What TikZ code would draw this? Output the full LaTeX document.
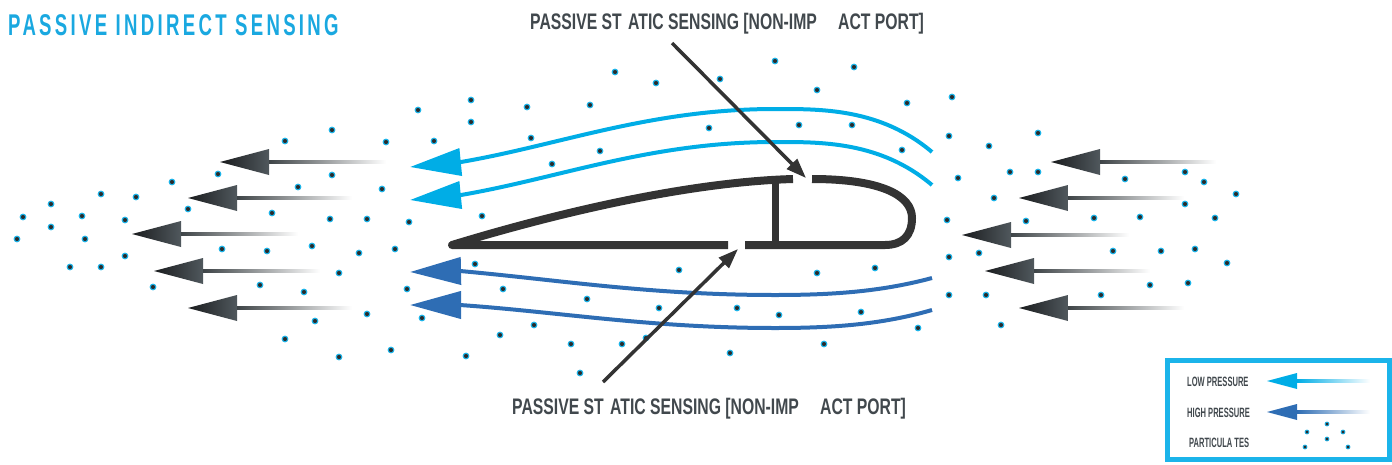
\documentclass[tikz,border=0pt]{standalone}
\usepackage{fontspec}
\usetikzlibrary{arrows.meta}
\newfontfamily\condfont[FakeStretch=0.7]{Liberation Sans}
\newfontfamily\keyfont[FakeStretch=0.56]{Liberation Sans}
\newfontfamily\titlefont[FakeStretch=0.62,LetterSpace=11]{Liberation Sans}

\definecolor{skyline}{HTML}{00ADE6}
\definecolor{deepline}{HTML}{2E6DB4}
\definecolor{titlecyan}{HTML}{1AA8E0}
\definecolor{labelgrey}{HTML}{41484D}
\definecolor{wingdark}{HTML}{333333}
\definecolor{dotfill}{HTML}{2B2B2B}
\definecolor{dotring}{HTML}{1BB4EA}
\definecolor{headdark}{HTML}{1A1C1E}
\definecolor{headgrey}{HTML}{50585D}
\definecolor{shaftgrey}{HTML}{3E4447}

\tikzset{
  particle/.style={fill=dotfill,draw=dotring,line width=1.1pt},
  wing/.style={draw=wingdark,line width=8pt,line join=round},
  stream/.style={line width=4pt,-{Triangle[length=51pt,width=27pt]}},
  pointer/.style={draw=wingdark,line width=3.5pt,-{Triangle[length=20pt,width=14pt]}},
  portlabel/.style={anchor=base west,inner sep=0pt,text=labelgrey,
    font=\condfont\bfseries\fontsize{22.5}{22}\selectfont},
  keylabel/.style={anchor=base west,inner sep=0pt,text=labelgrey,
    font=\keyfont\bfseries\fontsize{13.5}{14}\selectfont}
}

% grey wind arrow: tip x, y, tail x
\newcommand\windarrow[3]{%
  \shade[left color=headdark,right color=headgrey] (#1,#2) -- ++(49,-13) -- ++(0,26) -- cycle;
  \shade[left color=shaftgrey,right color=white] (#1+49,#2-1.8) rectangle (#3,#2+1.8);
}
% port caption, split as it is printed
\newcommand\porttext{\makebox[98pt][l]{PASSIVE ST}\makebox[210pt][l]{ATIC SENSING [NON-IMP}ACT PORT]}

\begin{document}
\begin{tikzpicture}[x=1pt,y=-1pt]
  \useasboundingbox (0,0) rectangle (1392,464);

  % particles
  \foreach \px/\py in {17/239,23/217,51/204,51/227,82/216,85/239,70/267,101/267,101/194,
      136/197,125/220,125/256,153/287,172/182,188/209,218/174,222/249,267/251,272/213,
      260/285,298/187,304/292,312/246,330/219,332/175,285/141,332/130,386/142,382/189,
      367/219,359/253,339/273,395/249,409/222,407/289,315/321,367/314,422/318,285/339,
      339/357,391/350,466/356,500/335,
      418/110,471/100,471/122,434/141,527/107,531/138,590/105,615/72,656/83,720/79,
      775/61,854/67,817/90,907/103,952/97,709/128,799/125,852/125,949/136,902/150,
      600/151,552/164,958/178,482/216,
      475/264,679/270,817/273,875/268,949/257,503/289,587/299,659/308,737/308,779/315,
      861/312,949/295,534/325,571/344,622/344,646/338,730/353,824/344,918/328,580/373,
      1038/133,989/146,1010/172,1038/172,994/198,1125/179,1185/172,1204/182,1236/194,
      1185/204,947/220,1026/221,1094/218,1140/217,1215/218,979/253,1113/251,1161/251,
      1195/249,1227/263,1150/285,1188/283,986/295,1101/295,1001/325}
    \draw[particle] (\px,\py) circle (2.8);

  % wind coming in, left and right of the profile
  \windarrow{220}{162}{386}
  \windarrow{188}{198}{352}
  \windarrow{132}{234}{298}
  \windarrow{154}{271}{320}
  \windarrow{188}{308}{352}
  \windarrow{1051}{162}{1216}
  \windarrow{1019}{198}{1184}
  \windarrow{962}{235}{1129}
  \windarrow{985}{271}{1150}
  \windarrow{1019}{308}{1184}

  % streamlines over and under the profile
  \draw[stream,skyline] (932,152) .. controls (880,108) and (820,109) .. (775,109)
    .. controls (650,109) and (560,145) .. (461,162) -- (410,167);
  \draw[stream,skyline] (932,185) .. controls (880,141) and (820,142) .. (775,142)
    .. controls (650,142) and (560,178) .. (461,195) -- (410,200);
  \draw[stream,deepline] (932,278) .. controls (880,292) and (830,295) .. (775,295)
    .. controls (650,295) and (560,280) .. (460,271) -- (410,272);
  \draw[stream,deepline] (932,310) .. controls (880,325) and (830,328) .. (775,328)
    .. controls (650,328) and (560,312) .. (460,305) -- (410,305);

  % profile with its two ports
  \draw[wing] (728,245) -- (452,245) .. controls (560,212) and (690,182) .. (793,179);
  \draw[wing] (812,179) .. controls (880,179) and (912,195) .. (912,218)
    .. controls (912,236) and (902,245) .. (885,245) -- (745,245);
  \draw[wing,line width=7pt] (775,182) -- (775,245);

  \node[portlabel] (toplabel) at (530,29) {\porttext};
  \node[portlabel] (bottomlabel) at (512,414) {\porttext};
  \coordinate (upperfoot) at (672,43);
  \coordinate (upperport) at (806,178);
  \coordinate (lowerfoot) at (603,382);
  \coordinate (lowerport) at (738,249);
  \draw[pointer] (upperfoot) -- (upperport);
  \draw[pointer] (lowerfoot) -- (lowerport);

  \node[anchor=base west,inner sep=0pt,text=titlecyan,
    font=\titlefont\bfseries\fontsize{30}{30}\selectfont] (title) at (8,35)
    {PASSIVE INDIRECT SENSING};

  % legend
  \draw[draw=dotring,line width=5pt] (1167.5,360.5) rectangle (1389.5,459.5);
  \node[keylabel] (lowkey) at (1187,386) {LOW PRESSURE};
  \node[keylabel] (highkey) at (1187,417) {HIGH PRESSURE};
  \node[keylabel] (dotkey) at (1189,447) {PARTICULA TES};
  \fill[skyline] (1267,381) -- ++(30,-8) -- ++(0,16) -- cycle;
  \shade[left color=skyline,right color=white] (1297,379.5) rectangle (1370,382.5);
  \fill[deepline] (1267,412) -- ++(30,-8) -- ++(0,16) -- cycle;
  \shade[left color=deepline,right color=white] (1297,410.5) rectangle (1370,413.5);
  \foreach \px/\py in {1307/432,1327/424,1343/432,1327/439,1305/447,1348/447}
    \draw[particle,line width=0.8pt] (\px,\py) circle (2);
\end{tikzpicture}
\end{document}
